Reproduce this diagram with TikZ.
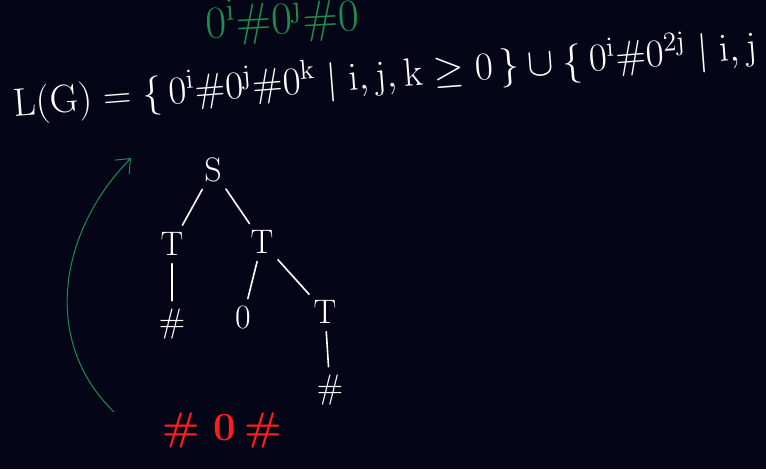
\documentclass[tikz,border=0pt]{standalone}
\usetikzlibrary{arrows.meta}
\definecolor{bg}{RGB}{4,5,22}
\definecolor{chalkgreen}{RGB}{30,140,75}
\definecolor{chalkred}{RGB}{255,30,30}
\tikzset{
  chalk/.style={text=white,font=\fontsize{34}{38}\selectfont,inner sep=0pt},
  edge/.style={draw=white,line width=1.6pt,line cap=round,shorten >=8pt,shorten <=8pt},
}
\begin{document}
\begin{tikzpicture}[x=1pt,y=-1pt]
\fill[bg] (0,0) rectangle (766,469);
\useasboundingbox (0,0) rectangle (766,469);
% green top text
\node[text=chalkgreen,font=\fontsize{20}{24}\selectfont,rotate=3,scale=2.2,transform shape] (green) at (282,20) {$\mathrm{0^i\#0^j\#0}$};
% main formula
\node[text=white,font=\fontsize{20}{24}\selectfont,rotate=4.4,scale=1.9,transform shape] (formula) at (385,76)
  {$\mathrm{L(G)=\{\,0^i\#0^j\#0^k\mid i,j,k\geq 0\,\}\cup\{\,0^i\#0^{2j}\mid i,j}$};
% tree
\node[chalk] (S) at (213,170) {S};
\node[chalk] (T1) at (172,244) {T};
\node[chalk] (T2) at (262,242) {T};
\node[chalk] (H1) at (172,324) {\#};
\node[chalk] (Z) at (243,318) {0};
\node[chalk] (T3) at (325,312) {T};
\node[chalk] (H2) at (330,390) {\#};
\draw[edge] (S) -- (T1);
\draw[edge] (S) -- (T2);
\draw[edge] (T1) -- (H1);
\draw[edge] (T2) -- (Z);
\draw[edge] (T2) -- (T3);
\draw[edge] (T3) -- (H2);
% red result
\node[text=chalkred,font=\bfseries\fontsize{40}{44}\selectfont] (res) at (222,430) {\#\hspace{0.35em}0\hspace{0.2em}\#};
% green arrow
\coordinate (a0) at (114,412);
\coordinate (a1) at (131,158);
\draw[chalkgreen,line width=1pt,-{Straight Barb[length=12pt,width=20pt]}] (a0) .. controls (40,340) and (60,230) .. (a1);
\end{tikzpicture}
\end{document}
